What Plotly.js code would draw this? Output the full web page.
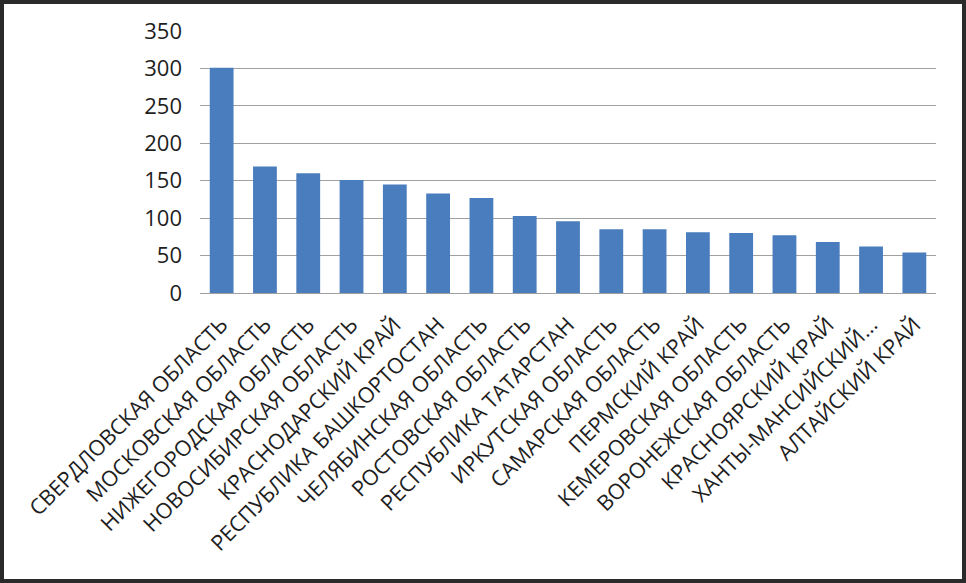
<!DOCTYPE html>
<html>
<head>
<meta charset="utf-8">
<script src="https://cdn.plot.ly/plotly-3.0.1.min.js"></script>
<style>
html,body{margin:0;padding:0;background:#fff;}
#wrap{width:966px;height:583px;box-sizing:border-box;border:4px solid #2a2a2a;background:#fff;overflow:hidden;}
#chart{width:958px;height:575px;}
</style>
</head>
<body>
<div id="wrap"><div id="chart"></div></div>
<script>
const regions = [
  "СВЕРДЛОВСКАЯ ОБЛАСТЬ",
  "МОСКОВСКАЯ ОБЛАСТЬ",
  "НИЖЕГОРОДСКАЯ ОБЛАСТЬ",
  "НОВОСИБИРСКАЯ ОБЛАСТЬ",
  "КРАСНОДАРСКИЙ КРАЙ",
  "РЕСПУБЛИКА БАШКОРТОСТАН",
  "ЧЕЛЯБИНСКАЯ ОБЛАСТЬ",
  "РОСТОВСКАЯ ОБЛАСТЬ",
  "РЕСПУБЛИКА ТАТАРСТАН",
  "ИРКУТСКАЯ ОБЛАСТЬ",
  "САМАРСКАЯ ОБЛАСТЬ",
  "ПЕРМСКИЙ КРАЙ",
  "КЕМЕРОВСКАЯ ОБЛАСТЬ",
  "ВОРОНЕЖСКАЯ ОБЛАСТЬ",
  "КРАСНОЯРСКИЙ КРАЙ",
  "ХАНТЫ-МАНСИЙСКИЙ...",
  "АЛТАЙСКИЙ КРАЙ"
];
const values = [301, 169, 160, 151, 145, 133, 127, 103, 96, 85, 85, 81, 80, 77, 68, 62, 54];
const yTicks = [0, 50, 100, 150, 200, 250, 300, 350];

Plotly.newPlot('chart', [{
  type: 'bar',
  x: regions,
  y: values,
  marker: {color: '#4a7dbd'},
  hoverinfo: 'x+y'
}], {
  width: 958,
  height: 575,
  margin: {l: 196, r: 26, t: 27, b: 286},
  paper_bgcolor: '#fff',
  plot_bgcolor: '#fff',
  bargap: 0.45,
  showlegend: false,
  font: {family: 'Open Sans, sans-serif', color: '#1e1e1e'},
  xaxis: {
    type: 'category',
    tickangle: -45,
    tickfont: {size: 21.5, color: '#1e1e1e'},
    showgrid: false,
    showline: false,
    ticks: '',
    ticklabelstandoff: 14,
    zeroline: false
  },
  yaxis: {
    range: [0, 350],
    tickvals: yTicks,
    ticktext: yTicks.map(String),
    tickfont: {size: 22, color: '#1e1e1e'},
    showgrid: true,
    gridcolor: '#a0a0a0',
    gridwidth: 1,
    zeroline: true,
    zerolinecolor: '#a0a0a0',
    zerolinewidth: 1,
    showline: false,
    ticks: '',
    ticklabelstandoff: 17
  }
}, {displayModeBar: false, staticPlot: true});
</script>
</body>
</html>
